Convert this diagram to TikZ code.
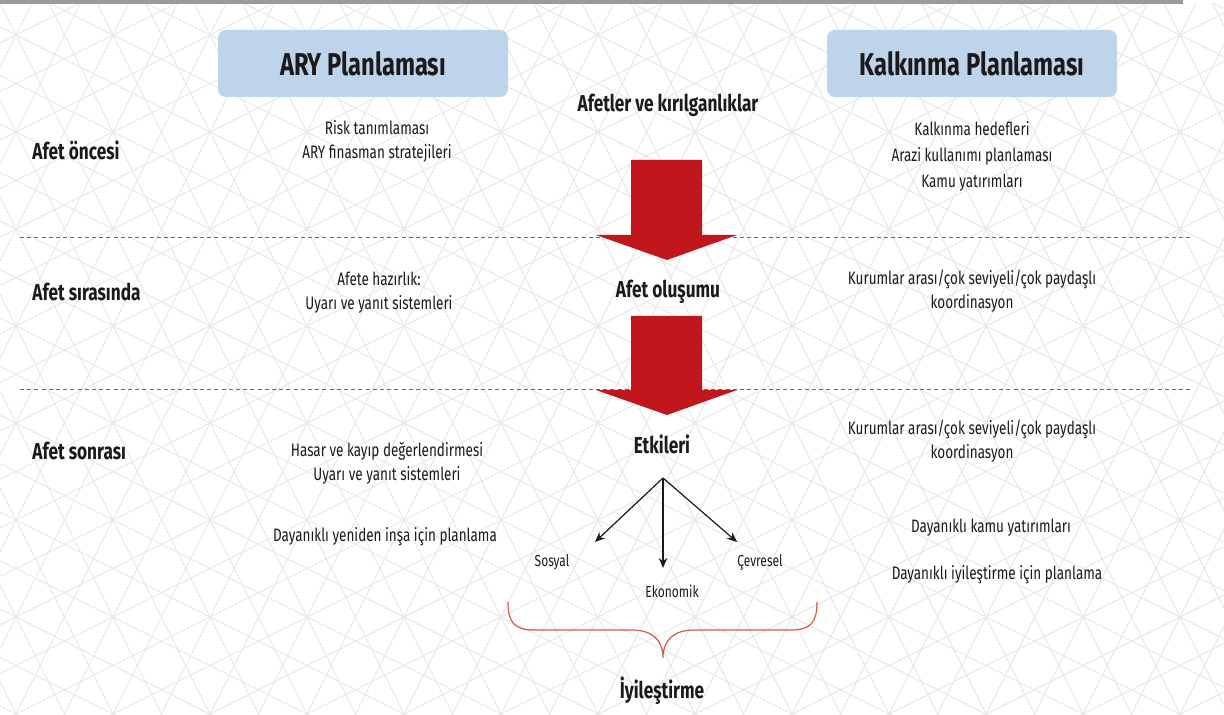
\documentclass[tikz,border=0pt]{standalone}
\usepackage{fontspec}
\setmainfont{Fira Sans}[FakeStretch=0.75]
\usepackage{tikz}
\usetikzlibrary{arrows.meta}
\usepackage{xcolor}

\definecolor{boxblue}{HTML}{BDD4EB}
\definecolor{arrowred}{HTML}{C1161B}
\definecolor{bracered}{HTML}{D65A45}
\definecolor{txtgray}{HTML}{1A1A1A}
\definecolor{dashgray}{HTML}{6A6A6A}
\definecolor{pattgray}{HTML}{E8E8E8}
\definecolor{bargray}{HTML}{9B9B9B}

\tikzset{
  patt/.style={draw=pattgray, line width=0.55pt},
  body/.style={text=txtgray, align=center, inner sep=0pt, font=\fontsize{9}{12}\selectfont},
  bodyr/.style={body, font=\fontsize{9}{13}\selectfont},
  small/.style={text=txtgray, inner sep=0pt, font=\fontsize{8}{10}\selectfont},
  phase/.style={text=txtgray, anchor=west, inner sep=0pt, font=\bfseries\fontsize{11.5}{13}\selectfont},
  stage/.style={text=txtgray, inner sep=0pt, font=\bfseries\fontsize{11.5}{13}\selectfont},
  headbox/.style={fill=boxblue, rounded corners=4pt, minimum width=145pt, minimum height=33.5pt,
    text=txtgray, font=\bfseries\fontsize{15.8}{18}\selectfont},
  sep/.style={draw=dashgray, dash pattern=on 2pt off 1.6pt, line width=0.5pt},
  bigarrow/.style={fill=arrowred},
  fan/.style={draw=txtgray, line width=0.6pt, -{Stealth[length=5pt,width=4.2pt]}},
  brace/.style={draw=bracered, line width=0.6pt}
}

\begin{document}
\begin{tikzpicture}[x=0.5pt, y=-0.5pt]
\useasboundingbox (0,0) rectangle (1224,715);
% background pattern
\begin{scope}
\clip (0,4) rectangle (1224,715);
\foreach \k in {-8,...,26} \draw[patt] ({-1.5+48.5*\k},0) -- ++(357.5,715);
\foreach \k in {0,...,34} \draw[patt] ({33.5+48.5*\k},0) -- ++(-357.5,715);
\foreach \k in {-13,...,15} \draw[patt] (0,{27+48.5*\k}) -- ++(1224,612);
\foreach \k in {0,...,28} \draw[patt] (0,{43+48.5*\k}) -- ++(1224,-612);
\end{scope}
\fill[bargray] (0,0) rectangle (1183,4);

% separators
\draw[sep] (20,238) -- (1190,238);
\draw[sep] (20,390) -- (1190,390);

% headers
\node[headbox] (ary) at (363,63.5) {ARY Planlaması};
\node[headbox] (kalk) at (972,63.5) {Kalkınma Planlaması};

% phases
\node[phase] (once) at (32,150) {Afet öncesi};
\node[phase] (sira) at (32,292) {Afet sırasında};
\node[phase] (sonra) at (32,451) {Afet sonrası};

% centre column
\node[stage] (afetler) at (668,105) {Afetler ve kırılganlıklar};
\node[stage] (olusum) at (668,292) {Afet oluşumu};
\node[stage] (etki) at (662,444) {Etkileri};
\node[stage] (iyi) at (662,691) {İyileştirme};

\fill[bigarrow] (631,160) -- (702,160) -- (702,235) -- (737,235) -- (667,260)
  -- (596,235) -- (631,235) -- cycle;
\fill[bigarrow] (631,316) -- (702,316) -- (702,390) -- (737,390) -- (667,415)
  -- (596,390) -- (631,390) -- cycle;

% impacts
\coordinate (fork) at (663,478);
\coordinate (sosyalend) at (595,542);
\coordinate (ekoend) at (663,568);
\coordinate (cevreend) at (737,542);
\draw[fan] (fork) -- (sosyalend);
\draw[fan] (fork) -- (ekoend);
\draw[fan] (fork) -- (cevreend);
\node[small] (sosyal) at (552,562) {Sosyal};
\node[small] (eko) at (672,591) {Ekonomik};
\node[small] (cevre) at (760,562) {Çevresel};

\draw[brace] (508,602) .. controls (508,622) and (514,630) .. (534,630) -- (632,630)
  .. controls (652,630) and (663,640) .. (663,658)
  .. controls (663,640) and (674,630) .. (694,630) -- (791,630)
  .. controls (811,630) and (817,622) .. (817,602);

% ARY column
\node[body] (risk) at (377,141) {Risk tanımlaması\\ARY finasman stratejileri};
\node[body] (hazir) at (379,292.5) {Afete hazırlık:\\Uyarı ve yanıt sistemleri};
\node[body] (hasar) at (387,463.5) {Hasar ve kayıp değerlendirmesi\\Uyarı ve yanıt sistemleri};
\node[body] (yeniden) at (385,537) {Dayanıklı yeniden inşa için planlama};

% development column
\node[bodyr] (hedef) at (972,156) {Kalkınma hedefleri\\Arazi kullanımı planlaması\\Kamu yatırımları};
\node[body] (koord1) at (972,291.5) {Kurumlar arası/çok seviyeli/çok paydaşlı\\koordinasyon};
\node[body] (koord2) at (972,441.5) {Kurumlar arası/çok seviyeli/çok paydaşlı\\koordinasyon};
\node[body] (kamu) at (991,528) {Dayanıklı kamu yatırımları};
\node[body] (iyiplan) at (997,575) {Dayanıklı iyileştirme için planlama};
\end{tikzpicture}
\end{document}
